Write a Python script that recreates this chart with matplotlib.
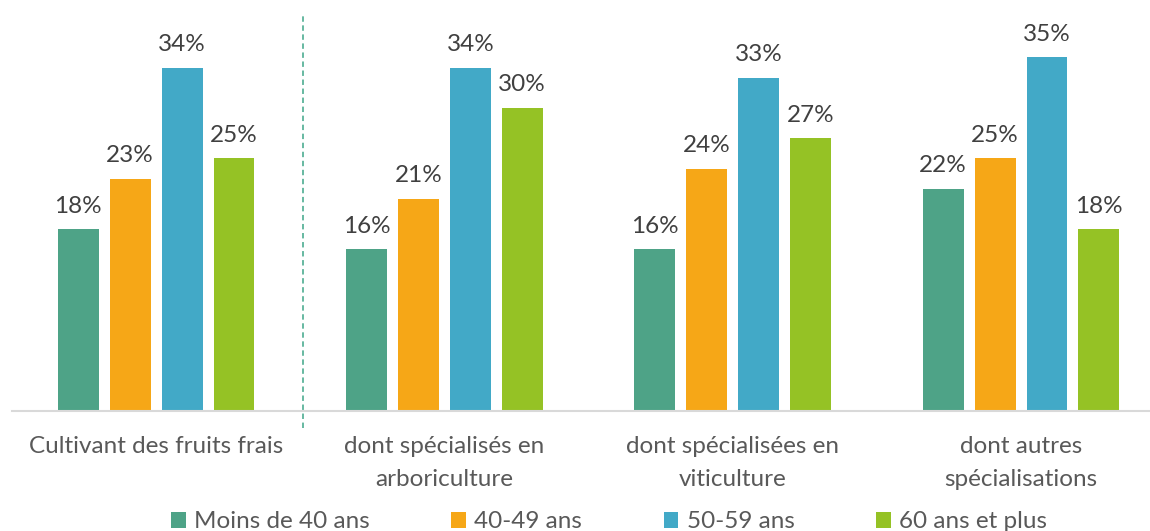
import matplotlib
matplotlib.use("Agg")
import matplotlib.pyplot as plt
from matplotlib.patches import Patch
import numpy as np

categories = ["Cultivant des fruits frais", "dont spécialisés en\narboriculture",
              "dont spécialisées en\nviticulture", "dont autres\nspécialisations"]
series_names = ["Moins de 40 ans", "40-49 ans", "50-59 ans", "60 ans et plus"]
moins40 = [18, 16, 16, 22]
ans40_49 = [23, 21, 24, 25]
ans50_59 = [34, 34, 33, 35]
ans60plus = [25, 30, 27, 18]
colors = ["#4EA387", "#F6A717", "#42A9C7", "#95C225"]

plt.rcParams['font.family'] = ['Lato', 'DejaVu Sans']

W, H = 1150, 531
fig = plt.figure(figsize=(W/100, H/100), dpi=100)
left_px, right_px = 12, 12 + 4*288.3
base_px, top_px = 411, 7
ax = fig.add_axes([left_px/W, (H-base_px)/H, (right_px-left_px)/W, (base_px-top_px)/H])

x = np.arange(len(categories))
step = 0.180
width = 0.142
fs = 17.5
data = [moins40, ans40_49, ans50_59, ans60plus]
for i, (vals, c) in enumerate(zip(data, colors)):
    pos = x + (i - 1.5) * step
    bars = ax.bar(pos, vals, width, color=c, zorder=2)
    for b, v in zip(bars, vals):
        ax.annotate(f"{v}%", (b.get_x() + b.get_width()/2, v), xytext=(0, 9),
                    textcoords="offset points", ha="center", va="bottom",
                    fontsize=fs, color="#404040")

ax.set_xlim(-0.5, 3.5)
ax.set_ylim(0, 40)
for s in ["top", "right", "left"]:
    ax.spines[s].set_visible(False)
ax.spines["bottom"].set_color("#D9D9D9")
ax.spines["bottom"].set_linewidth(1.5)
ax.set_yticks([])
ax.set_xticks(x)
ax.set_xticklabels(categories, fontsize=fs, color="#595959", linespacing=1.7)
ax.tick_params(axis="x", length=0, pad=18)

# dashed divider
ax.plot([0.51, 0.51], [-1.7, 39.2], ls=(0, (3, 2)), color="#5BB39A", lw=1.3,
        clip_on=False, zorder=1)

handles = [Patch(facecolor=c, edgecolor="none") for c in colors]
fig.legend(handles, series_names, loc="center", bbox_to_anchor=(609/W, (H-522)/H),
           ncol=4, frameon=False, fontsize=fs, labelcolor="#595959",
           handlelength=0.6, handleheight=0.6, handletextpad=0.35,
           columnspacing=3.35, borderpad=0, borderaxespad=0)

fig.savefig("out.png", dpi=100)
